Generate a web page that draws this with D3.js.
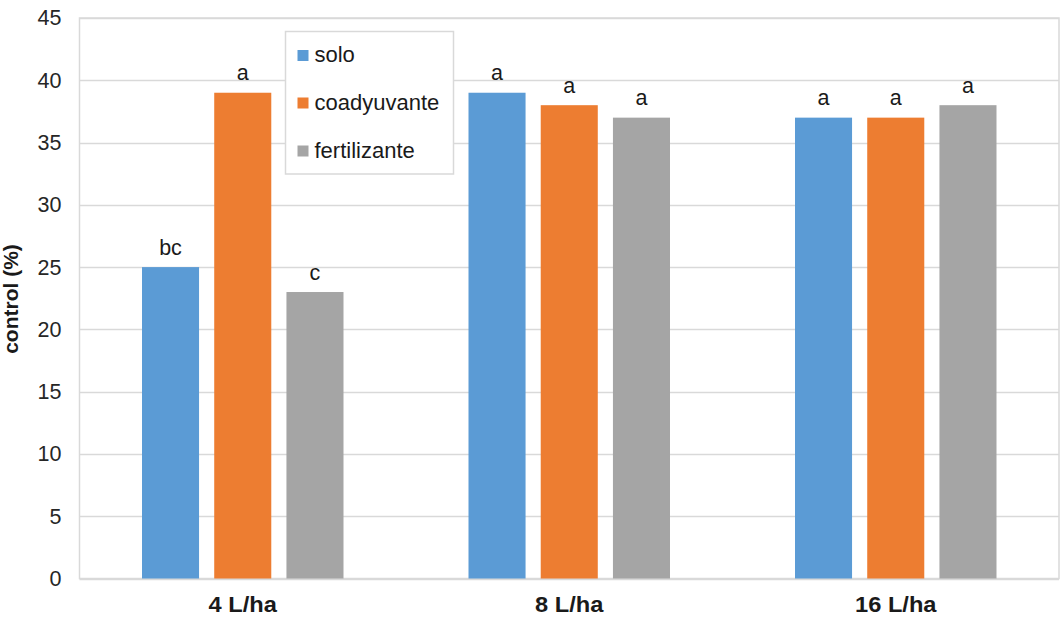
<!DOCTYPE html>
<html>
<head>
<meta charset="utf-8">
<script src="https://cdn.jsdelivr.net/npm/d3@7"></script>
<style>
  body { margin: 0; background: #fff; }
  svg { display: block; font-family: Arial, "Liberation Sans", sans-serif; }
</style>
</head>
<body>
<svg id="chart" width="1061" height="618"></svg>
<script>
// Doses applied and treatment series
const doses = ["4 L/ha", "8 L/ha", "16 L/ha"];
const seriesNames = ["solo", "coadyuvante", "fertilizante"];
const seriesColors = ["#5b9bd5", "#ed7d31", "#a5a5a5"];

// Weed control (%) per series, one value per dose
const solo = [25, 39, 37];
const coadyuvante = [39, 38, 37];
const fertilizante = [23, 37, 38];

// Significance letters per series, one per dose
const soloLetters = ["bc", "a", "a"];
const coadyuvanteLetters = ["a", "a", "a"];
const fertilizanteLetters = ["c", "a", "a"];

const yTicks = [0, 5, 10, 15, 20, 25, 30, 35, 40, 45];

const values = [solo, coadyuvante, fertilizante];
const letters = [soloLetters, coadyuvanteLetters, fertilizanteLetters];

const FONT = "Arial, 'Liberation Sans', sans-serif";
const svg = d3.select("#chart");
const plot = { left: 79.5, right: 1059, top: 18, bottom: 578.5 };

const x0 = d3.scaleBand().domain(doses).range([plot.left, plot.right]).padding(0);
const groupW = 201.5;
const x1 = d3.scaleBand().domain(seriesNames).range([0, groupW]).paddingInner(0.21).paddingOuter(0);
const y = d3.scaleLinear().domain([0, 45]).range([plot.bottom, plot.top]);

// Horizontal gridlines
svg.append("g")
  .selectAll("line")
  .data(yTicks)
  .join("line")
  .attr("x1", plot.left).attr("x2", plot.right)
  .attr("y1", d => Math.round(y(d)) + 0.5).attr("y2", d => Math.round(y(d)) + 0.5)
  .attr("stroke", "#d9d9d9").attr("stroke-width", 1.5);

// Plot area frame
svg.append("rect")
  .attr("x", plot.left).attr("y", plot.top)
  .attr("width", plot.right - plot.left).attr("height", plot.bottom - plot.top)
  .attr("fill", "none").attr("stroke", "#d9d9d9").attr("stroke-width", 1.5);

// Y axis labels
const yAxis = d3.axisLeft(y).tickValues(yTicks).tickSize(0).tickPadding(18);
const yg = svg.append("g").attr("transform", `translate(${plot.left},0)`).call(yAxis);
yg.select(".domain").remove();
yg.selectAll("text").attr("font-size", 21.5).attr("fill", "#262626").attr("font-family", FONT);

// X axis labels (slightly widened glyphs)
const xAxis = d3.axisBottom(x0).tickSize(0).tickPadding(18);
const xg = svg.append("g").attr("transform", `translate(0,${plot.bottom})`).call(xAxis);
xg.select(".domain").remove();
xg.selectAll("text").attr("font-size", 21.5).attr("font-weight", "bold").attr("fill", "#1a1a1a")
  .attr("font-family", FONT).attr("transform", "scale(1.1,1)");

// Y axis title
svg.append("text")
  .attr("transform", `translate(18,299) rotate(-90)`)
  .attr("text-anchor", "middle")
  .attr("font-size", 21).attr("font-weight", "bold").attr("fill", "#1a1a1a")
  .text("control (%)");

// Bars
const groups = svg.append("g").selectAll("g")
  .data(doses)
  .join("g")
  .attr("transform", d => `translate(${x0(d) + (x0.bandwidth() - groupW) / 2},0)`);

const cells = (d, i) => seriesNames.map((s, k) => ({ s, k, v: values[k][i], l: letters[k][i] }));

groups.selectAll("rect")
  .data(cells)
  .join("rect")
  .attr("x", d => x1(d.s))
  .attr("width", x1.bandwidth())
  .attr("y", d => y(d.v))
  .attr("height", d => y(0) - y(d.v))
  .attr("fill", d => seriesColors[d.k]);

groups.selectAll("text.letter")
  .data(cells)
  .join("text")
  .attr("class", "letter")
  .attr("x", d => x1(d.s) + x1.bandwidth() / 2)
  .attr("y", d => y(d.v) - 12.5)
  .attr("text-anchor", "middle")
  .attr("font-size", 21.5).attr("fill", "#1a1a1a")
  .text(d => d.l);

// Legend
const legend = svg.append("g").attr("transform", "translate(285.5,31.5)");
legend.append("rect")
  .attr("width", 168).attr("height", 142.5)
  .attr("fill", "#fff").attr("stroke", "#d9d9d9").attr("stroke-width", 1.5);
const legendRows = [23.5, 71, 119];
seriesNames.forEach((name, k) => {
  legend.append("rect")
    .attr("x", 12).attr("y", legendRows[k] - 5)
    .attr("width", 11).attr("height", 11)
    .attr("fill", seriesColors[k]);
  legend.append("text")
    .attr("x", 29).attr("y", legendRows[k] + 7)
    .attr("font-size", 22).attr("fill", "#1a1a1a")
    .text(name);
});
</script>
</body>
</html>
